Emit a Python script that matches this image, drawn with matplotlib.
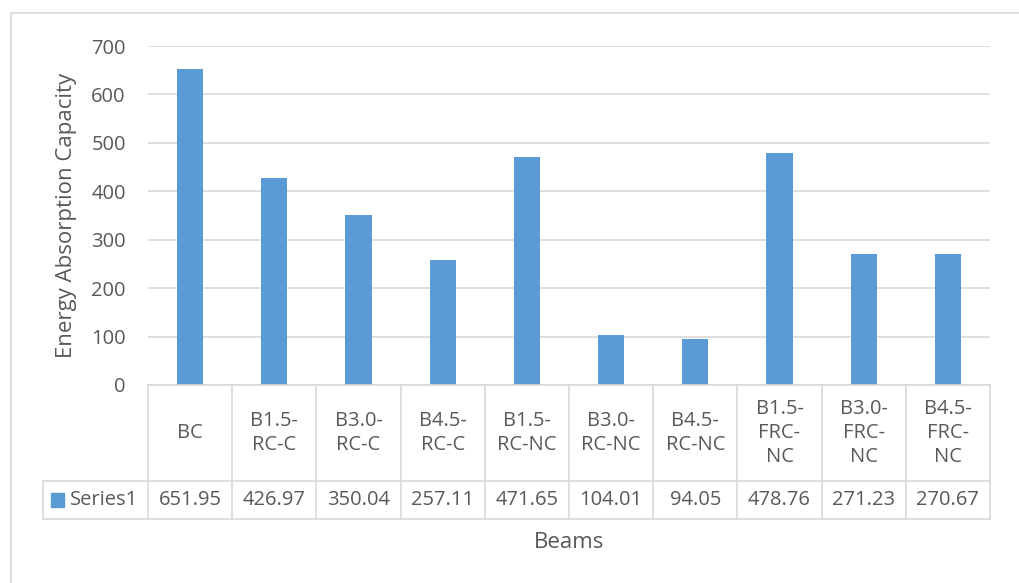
import numpy as np
import matplotlib.pyplot as plt
from matplotlib.patches import Rectangle

plt.rcParams['font.family'] = ['Open Sans', 'DejaVu Sans']

beams = ["BC", "B1.5-\nRC-C", "B3.0-\nRC-C", "B4.5-\nRC-C", "B1.5-\nRC-NC",
         "B3.0-\nRC-NC", "B4.5-\nRC-NC", "B1.5-\nFRC-\nNC", "B3.0-\nFRC-\nNC",
         "B4.5-\nFRC-\nNC"]
energy = [651.95, 426.97, 350.04, 257.11, 471.65, 104.01, 94.05, 478.76,
          271.23, 270.67]
series_name = "Series1"
yticks = [0, 100, 200, 300, 400, 500, 600, 700]

W, H = 1020, 583
bar_col = "#5b9bd5"
grid_col = "#d9d9d9"
txt_col = "#595959"
fs = 14.5

fig = plt.figure(figsize=(W / 100, H / 100), dpi=100)

# outer chart border (only left/top visible in the crop)
fig.add_artist(Rectangle((11 / W, -0.1), 1.2, 1 - 13 / H + 0.1,
                         transform=fig.transFigure, fill=False,
                         edgecolor=grid_col, lw=1.2))

# main plot area
x0, x1 = 148, 990
ax = fig.add_axes([x0 / W, 1 - 385 / H, (x1 - x0) / W, (385 - 46) / H])
x = np.arange(len(beams))
ax.bar(x, energy, width=0.31, color=bar_col, zorder=3)
ax.set_xlim(-0.5, len(beams) - 0.5)
ax.set_ylim(0, 700)
ax.set_yticks(yticks)
ax.set_xticks([])
ax.grid(axis='y', color=grid_col, lw=1.2, zorder=0)
for s in ax.spines.values():
    s.set_visible(False)
ax.tick_params(axis='y', length=0, labelsize=fs, colors=txt_col, pad=16)
ax.set_ylabel("Energy Absorption Capacity", fontsize=16, color=txt_col)
ax.yaxis.set_label_coords(-0.084, 0.5)

# data table under the axis
cw = (x1 - x0) / len(beams)
leg_w = (x0 - 43) / cw
tax = fig.add_axes([43 / W, 1 - 519 / H, (x1 - 43) / W, (519 - 385) / H])
tax.set_xlim(-0.5 - leg_w, len(beams) - 0.5)
tax.set_ylim(0, 134)
tax.axis('off')
lk = dict(color=grid_col, lw=1.2, clip_on=False)
tax.plot([-0.5, len(beams) - 0.5], [134, 134], **lk)
tax.plot([-0.5 - leg_w, len(beams) - 0.5], [38, 38], **lk)
tax.plot([-0.5 - leg_w, len(beams) - 0.5], [0, 0], **lk)
tax.plot([-0.5 - leg_w, -0.5 - leg_w], [0, 38], **lk)
for i in range(len(beams) + 1):
    tax.plot([i - 0.5, i - 0.5], [0, 134], **lk)
for i, (b, v) in enumerate(zip(beams, energy)):
    tax.text(i, 86, b, ha='center', va='center', fontsize=fs, color=txt_col,
             linespacing=1.3)
    tax.text(i, 19, f"{v:.2f}", ha='center', va='center', fontsize=fs,
             color=txt_col)
lx = -0.5 - leg_w
tax.add_patch(Rectangle((lx + 8 / cw, 12), 13 / cw, 14, color=bar_col,
                        clip_on=False))
tax.text(lx + 27 / cw, 19, series_name, ha='left', va='center', fontsize=fs,
         color=txt_col)

fig.text((x0 + x1) / 2 / W, 1 - 542 / H, "Beams", ha='center', va='center',
         fontsize=16, color=txt_col)

fig.savefig("out.png", dpi=100)
